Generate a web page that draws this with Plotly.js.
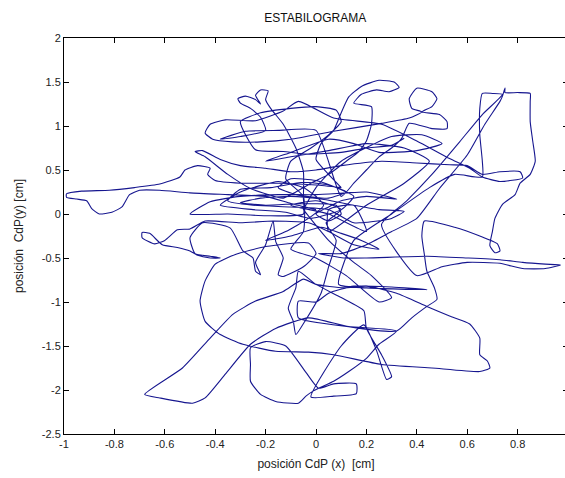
<!DOCTYPE html>
<html>
<head>
<meta charset="utf-8">
<script src="https://cdn.plot.ly/plotly-3.0.1.min.js"></script>
<style>
html,body{margin:0;padding:0;background:#fff;overflow:hidden;}
#chart{width:568px;height:478px;}
</style>
</head>
<body>
<div id="chart"></div>
<script>
// Centre-of-pressure trajectory (cm), in path order
const seg1X = [0.0,-0.1,-0.2,-0.35,-0.5,-0.62,-0.7,-0.74,-0.77,-0.81,-0.86,-0.89,-0.91,-0.95,-0.99,-0.99,-0.93,-0.82,-0.72,-0.62,-0.54,-0.52,-0.47,-0.42,-0.43,-0.4,-0.3,-0.15,0.0,0.1];
const seg1Y = [0.05,0.12,0.2,0.22,0.24,0.27,0.27,0.22,0.08,0.02,0.0,0.06,0.15,0.17,0.19,0.23,0.26,0.27,0.3,0.34,0.42,0.5,0.55,0.52,0.45,0.38,0.35,0.35,0.33,0.3];
const seg2X = [0.1,0.05,0.0,0.02,0.07,0.1,0.13,0.18,0.25,0.31,0.33,0.29,0.24,0.18,0.15,0.22,0.22,0.2,0.17,0.12,0.05,-0.02,-0.08];
const seg2Y = [0.3,0.45,0.62,0.8,0.95,1.15,1.33,1.45,1.52,1.5,1.44,1.39,1.41,1.36,1.26,1.22,1.02,0.83,0.71,0.6,0.45,0.35,0.25];
const seg3X = [-0.13,-0.26,-0.35,-0.44,-0.48,-0.45,-0.38,-0.3,-0.2,-0.1,0.0,0.1,0.26,0.4,0.53,0.6];
const seg3Y = [0.18,0.29,0.45,0.65,0.71,0.72,0.62,0.55,0.52,0.48,0.5,0.55,0.6,0.58,0.56,0.55];
const seg4X = [0.66,0.73,0.81,0.82,0.73,0.66,0.61,0.53,0.4,0.26,0.07,-0.07,-0.13,-0.24,-0.36,-0.42,-0.44,-0.41,-0.33,-0.22,-0.1,0.07,0.26,0.37,0.42,0.38,0.37,0.4,0.46,0.48,0.46,0.42,0.49,0.52,0.52,0.46,0.37,0.34,0.3,0.25,0.2,0.15,0.1];
const seg4Y = [0.45,0.48,0.48,0.41,0.37,0.42,0.52,0.63,0.83,1.02,1.09,1.28,1.17,1.06,1.07,1.02,0.92,0.85,0.82,0.82,0.85,0.94,1.03,1.09,1.16,1.2,1.31,1.43,1.39,1.31,1.22,1.16,1.13,1.05,0.97,0.97,1.03,0.86,0.75,0.65,0.5,0.35,0.2];
const seg5X = [0.0,-0.15,-0.28,-0.38,-0.3,-0.2,-0.22,-0.26,-0.3,-0.31,-0.28,-0.24,-0.22,-0.24,-0.22,-0.19,-0.2,-0.18,-0.13,-0.08,-0.05,-0.05,-0.05];
const seg5Y = [0.95,0.95,0.94,0.85,0.88,0.95,1.1,1.2,1.26,1.31,1.34,1.3,1.25,1.35,1.41,1.4,1.3,1.2,1.02,0.75,0.48,0.18,0.0];
const seg6X = [-0.2,-0.35,-0.5,-0.42,-0.3,-0.15,0.0,0.12,0.2,0.32,0.2,0.1,0.05,0.0,0.05,0.1,0.08,-0.05,-0.2,-0.3,-0.22,-0.1,0.02,0.15,0.25,0.35,0.3,0.15];
const seg6Y = [-0.02,0.0,0.0,0.14,0.2,0.22,0.22,0.24,0.25,0.17,0.2,0.15,0.08,0.0,-0.08,0.0,0.1,0.12,0.1,0.13,0.18,0.2,0.17,0.1,0.05,0.03,-0.05,-0.1];
const seg7X = [-0.03,-0.17,-0.3,-0.44,-0.5,-0.55,-0.6,-0.64,-0.69,-0.69,-0.66,-0.61,-0.55,-0.5,-0.47,-0.42,-0.38,-0.42,-0.48,-0.5,-0.45,-0.34,-0.29,-0.25,-0.24,-0.22,-0.24,-0.2,-0.17,-0.16,-0.13,-0.15,-0.13];
const seg7Y = [-0.1,-0.08,-0.1,-0.08,-0.17,-0.18,-0.3,-0.34,-0.27,-0.21,-0.22,-0.35,-0.38,-0.42,-0.47,-0.5,-0.5,-0.48,-0.45,-0.27,-0.1,-0.16,-0.42,-0.5,-0.65,-0.69,-0.55,-0.35,-0.08,-0.31,-0.5,-0.69,-0.71];
const seg8X = [-0.05,0.0,-0.03,-0.2,-0.32,-0.4,-0.44,-0.46,-0.44,-0.38,-0.29,-0.16,-0.03,0.07,0.26,0.46,0.65,0.69,0.68,0.65,0.65,0.61,0.53,0.44,0.32,0.2,0.11,0.0];
const seg8Y = [-0.6,-0.45,-0.33,-0.37,-0.46,-0.57,-0.76,-0.99,-1.22,-1.37,-1.48,-1.56,-1.57,-1.6,-1.71,-1.75,-1.79,-1.75,-1.67,-1.6,-1.41,-1.25,-1.16,-1.05,-0.9,-0.82,-0.84,-0.8];
const seg9X = [-0.05,-0.13,-0.24,-0.33,-0.42,-0.53,-0.68,-0.62,-0.49,-0.44,-0.36,-0.26,-0.16,-0.03,0.13,0.32,0.38,0.44,0.48,0.47,0.44,0.43,0.42,0.43];
const seg9Y = [-0.74,-0.88,-0.99,-1.14,-1.41,-1.75,-2.05,-2.09,-2.15,-2.09,-1.82,-1.48,-1.3,-1.18,-1.28,-1.33,-1.18,-1.05,-0.97,-0.84,-0.65,-0.46,-0.25,-0.08];
const seg10X = [0.55,0.65,0.72,0.73,0.71,0.69,0.7,0.71,0.74,0.79,0.81,0.85,0.87,0.86,0.85,0.85,0.85,0.8,0.75,0.75,0.74,0.73,0.67,0.6,0.49,0.4,0.3,0.2,0.1,0.01,0.11,0.2,0.44,0.6,0.73,0.82,0.91,0.97,0.91,0.82,0.73,0.6,0.5,0.4];
const seg10Y = [-0.15,-0.25,-0.34,-0.42,-0.44,-0.36,-0.2,-0.05,0.11,0.22,0.35,0.45,0.6,0.83,1.05,1.28,1.37,1.38,1.38,1.43,1.34,1.28,1.02,0.67,0.29,-0.05,-0.2,-0.35,-0.45,-0.45,-0.5,-0.5,-0.48,-0.5,-0.52,-0.55,-0.57,-0.58,-0.62,-0.62,-0.56,-0.55,-0.6,-0.7];
const seg11X = [0.26,0.36,0.46,0.57,0.66,0.74,0.7,0.66,0.65,0.65,0.66,0.66];
const seg11Y = [-0.12,0.15,0.45,0.82,1.13,1.36,1.37,1.37,1.2,0.9,0.6,0.42];
const seg12X = [0.55,0.45,0.3,0.15,0.09,0.2,0.44,0.3,0.15,0.05,0.0,-0.07,-0.07,0.13,0.32,0.25,0.2,0.13,0.07,-0.01,-0.04,-0.07,-0.16,-0.22,-0.26,-0.26,-0.26,-0.2,-0.12,-0.04,0.01,0.07,0.16,0.16,0.07,-0.02,0.1,0.19,0.24,0.28,0.3,0.26,0.2,0.19];
const seg12Y = [0.45,0.3,0.0,-0.3,-0.8,-0.84,-0.86,-0.83,-0.82,-0.9,-1.0,-0.99,-1.18,-1.28,-1.33,-1.48,-1.64,-1.79,-1.9,-2.01,-2.07,-2.15,-2.13,-2.05,-1.9,-1.71,-1.52,-1.45,-1.5,-1.8,-1.98,-1.93,-1.93,-2.04,-2.07,-2.08,-1.5,-1.26,-1.55,-1.88,-1.85,-1.6,-1.3,-1.1];
const seg13X = [0.1,0.0,-0.07,-0.08,-0.11,-0.09,-0.08,-0.04,0.02,0.05,0.08,0.04,0.1,0.0,-0.1,0.05,0.2,0.15,0.05];
const seg13Y = [-0.95,-0.8,-0.65,-0.84,-1.07,-1.22,-1.37,-1.2,-0.9,-0.6,-0.3,-0.1,0.05,0.15,0.1,0.0,-0.2,0.1,0.05];
const seg14X = [0.05,-0.1,-0.25,-0.35,-0.3,-0.18,-0.05,0.05,0.12,0.05,-0.08,-0.15,-0.1,0.0,0.08,0.15,0.1,-0.02,-0.12,-0.25,-0.38,-0.3,-0.15,-0.05,0.0,0.03,-0.03,-0.12,-0.2,-0.1,0.02,0.1,0.18,0.25,0.15,0.05];
const seg14Y = [0.05,0.08,0.1,0.15,0.28,0.3,0.36,0.33,0.25,0.18,0.22,0.3,0.4,0.38,0.3,0.2,0.05,-0.05,0.02,0.05,0.1,0.25,0.37,0.3,0.2,0.1,-0.05,-0.2,-0.3,-0.25,-0.15,-0.22,-0.3,-0.4,-0.35,-0.2];
const seg15X = [0.05,0.2,0.35,0.45,0.35,0.2,0.05,-0.1,-0.2,-0.1,0.05,0.15,0.25,0.4,0.5,0.42,0.3,0.1,0.0,-0.05];
const seg15Y = [-0.2,0.1,0.35,0.6,0.75,0.8,0.72,0.65,0.6,0.7,0.85,0.8,0.7,0.72,0.8,0.9,0.88,0.6,0.3,0.05];
const seg16X = [-0.05,0.05,0.15,0.22,0.3,0.25,0.12,0.0,-0.1,-0.05];
const seg16Y = [0.05,-0.3,-0.55,-0.7,-0.95,-1.0,-0.7,-0.5,-0.4,-0.2];
const seg17X = [-0.05,-0.12,-0.1,-0.02,0.05,0.1,0.08,0.0,-0.1,-0.22,-0.3,-0.24,-0.13,-0.03,0.1,0.2,0.3,0.35];
const seg17Y = [0.2,0.4,0.6,0.75,0.9,1.05,1.18,1.22,1.2,1.15,1.05,0.73,0.71,0.68,0.7,0.75,0.78,0.86];

const xTickVals = [-1,-0.8,-0.6,-0.4,-0.2,0,0.2,0.4,0.6,0.8,1];
const xTickText = ["-1","-0.8","-0.6","-0.4","-0.2","0","0.2","0.4","0.6","0.8","1"];
const yTickVals = [-2.5,-2,-1.5,-1,-0.5,0,0.5,1,1.5,2];
const yTickText = ["-2.5","-2","-1.5","-1","-0.5","0","0.5","1","1.5","2"];

const xs = [].concat(seg1X,seg2X,seg3X,seg4X,seg5X,seg6X,seg14X,seg7X,seg8X,seg9X,seg10X,seg11X,seg12X,seg13X,seg15X,seg16X,seg17X);
const ys = [].concat(seg1Y,seg2Y,seg3Y,seg4Y,seg5Y,seg6Y,seg14Y,seg7Y,seg8Y,seg9Y,seg10Y,seg11Y,seg12Y,seg13Y,seg15Y,seg16Y,seg17Y);

const font = {family: '"Liberation Sans", Arial, sans-serif', size: 11, color: '#222'};
const axisCommon = {
  showline: true, linecolor: '#000', linewidth: 1, mirror: 'ticks',
  ticks: 'inside', ticklen: 5, tickwidth: 1, tickcolor: '#000',
  showgrid: false, zeroline: false, tickfont: font, tickmode: 'array'
};

Plotly.newPlot('chart', [{
  x: xs, y: ys, type: 'scatter', mode: 'lines',
  line: {color: '#16168f', width: 1.1, shape: 'spline', smoothing: 0.5},
  hoverinfo: 'skip'
}], {
  width: 568, height: 478,
  margin: {l: 64, r: 0, t: 38, b: 44},
  paper_bgcolor: '#fff', plot_bgcolor: '#fff',
  showlegend: false,
  title: {text: 'ESTABILOGRAMA', font: {family: font.family, size: 12, color: '#111'}, x: 0.555, xanchor: 'center', y: 0.962, yanchor: 'middle'},
  xaxis: Object.assign({}, axisCommon, {
    range: [-1, 1], tickvals: xTickVals, ticktext: xTickText,
    title: {text: 'posición CdP (x) \u00a0[cm]', font: {family: font.family, size: 12, color: '#222'}, standoff: 10}
  }),
  yaxis: Object.assign({}, axisCommon, {
    range: [-2.5, 2], tickvals: yTickVals, ticktext: yTickText,
    title: {text: 'posición \u00a0CdP(y) [cm]', font: {family: font.family, size: 12, color: '#222'}, standoff: 15}
  })
}, {displayModeBar: false, staticPlot: true});
</script>
</body>
</html>
